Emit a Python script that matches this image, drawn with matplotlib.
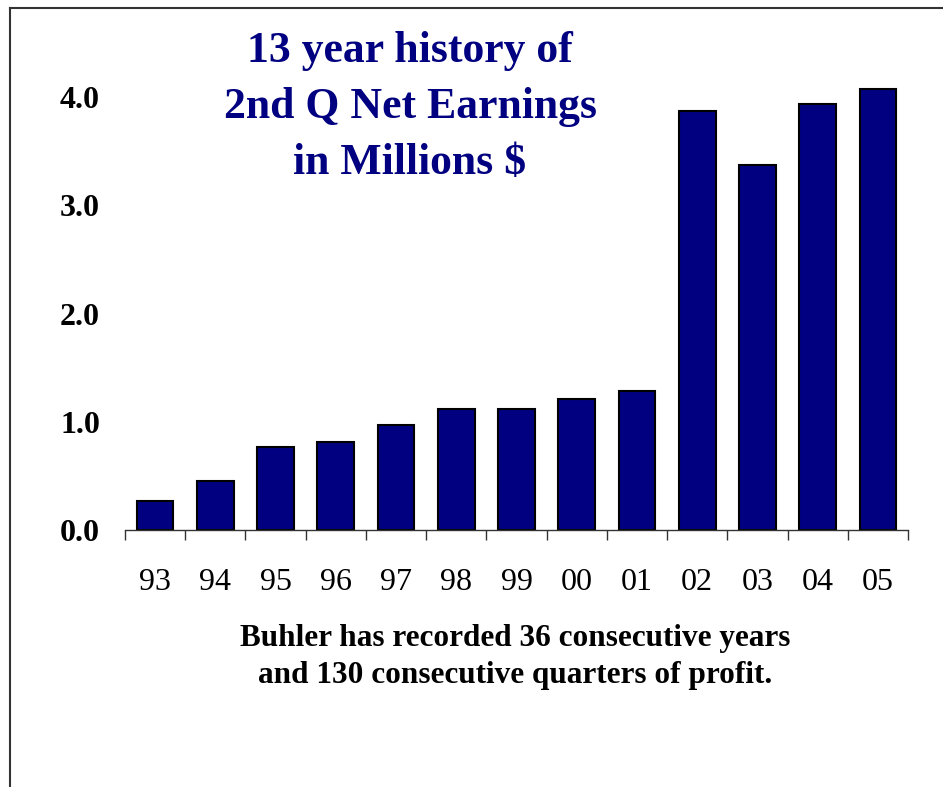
import numpy as np
import matplotlib.pyplot as plt
from matplotlib.lines import Line2D

# Data
years = ["93", "94", "95", "96", "97", "98", "99", "00", "01", "02", "03", "04", "05"]
earnings = [0.27, 0.45, 0.765, 0.81, 0.97, 1.12, 1.12, 1.21, 1.28, 3.87, 3.37, 3.94, 4.07]
y_ticks = [0.0, 1.0, 2.0, 3.0, 4.0]

title_lines = "13 year history of\n2nd Q Net Earnings\nin Millions $"
note_lines = "Buhler has recorded 36 consecutive years\nand 130 consecutive quarters of profit."

plt.rcParams['font.family'] = ['Liberation Serif', 'DejaVu Serif']

fig = plt.figure(figsize=(9.43, 7.87), dpi=100)
ax = fig.add_axes([125 / 943, 1 - 530 / 787, 783 / 943, 487.1 / 787])

x = np.arange(len(years))
ax.bar(x, earnings, width=0.61, color='#000080', edgecolor='black', linewidth=1.5)

ax.set_xlim(-0.5, len(years) - 0.5)
ax.set_ylim(0, 4.5)

# category labels at centres, tick marks at boundaries
ax.set_xticks(x)
ax.set_xticklabels(years, fontsize=23)
ax.tick_params(axis='x', which='major', length=0, pad=27.5)
ax.set_xticks(np.arange(-0.5, len(years)), minor=True)
ax.tick_params(axis='x', which='minor', length=7, width=1, color='#333333', direction='out')

ax.set_yticks(y_ticks)
ax.set_yticklabels([f"{v:.1f}" for v in y_ticks], fontsize=23, fontweight='bold')
ax.tick_params(axis='y', length=0, pad=18)

for s in ['top', 'right', 'left']:
    ax.spines[s].set_visible(False)
ax.spines['bottom'].set_color('#333333')
ax.spines['bottom'].set_linewidth(1)

fig.text(410 / 943, 1 - 31 / 787, title_lines, ha='center', va='top',
         fontsize=31.5, fontweight='bold', color='#000080', linespacing=1.52)

fig.text(515 / 943, 1 - 624 / 787, note_lines, ha='center', va='top',
         fontsize=22.5, fontweight='bold', color='black', linespacing=1.38)

# slide frame (left and top edges visible)
fig.add_artist(Line2D([10 / 943, 10 / 943], [0, 1 - 8 / 787], transform=fig.transFigure,
                      color='#333333', linewidth=1.5))
fig.add_artist(Line2D([10 / 943, 1], [1 - 8 / 787, 1 - 8 / 787], transform=fig.transFigure,
                      color='#333333', linewidth=1.5))

fig.savefig('out.png', dpi=100)
